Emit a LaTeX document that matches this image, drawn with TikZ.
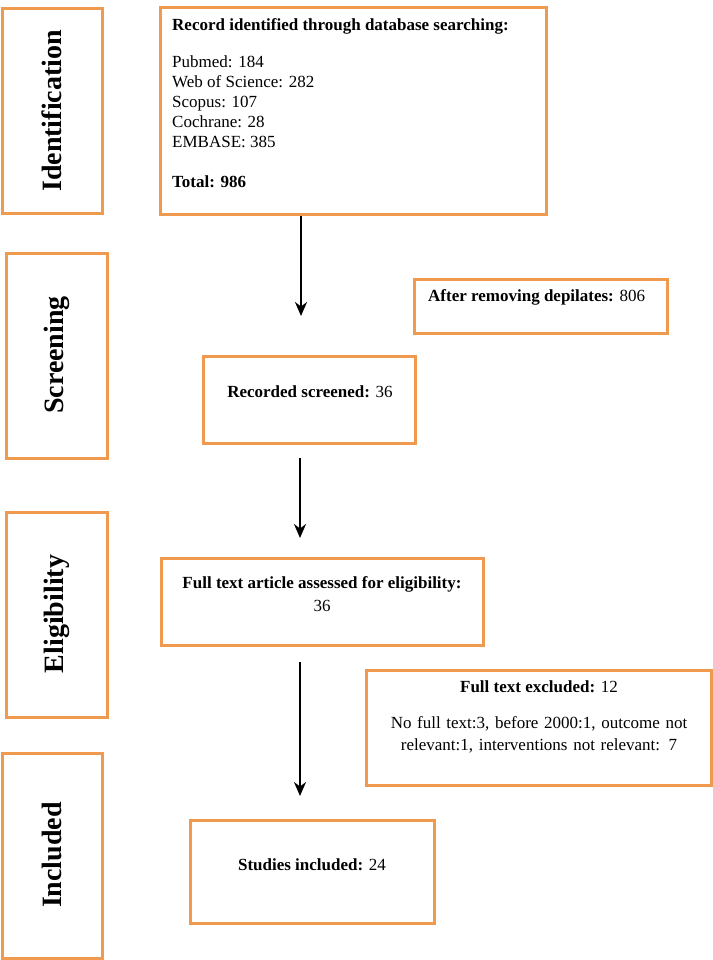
\documentclass[tikz,border=0pt]{standalone}
\usepackage{fontspec}
\setmainfont{Liberation Serif}
\usetikzlibrary{arrows.meta}
\begin{document}
\begin{tikzpicture}[x=1pt,y=-1pt,
  box/.style={draw=boxor,line width=3pt,fill=white},
  lbl/.style={font=\fontsize{28}{32}\selectfont\bfseries,rotate=90},
  arr/.style={line width=2.4pt,-{Stealth[length=14pt,width=12pt]}}]
\definecolor{boxor}{RGB}{240,154,80}
\useasboundingbox (0,0) rectangle (712,960);
\fill[white] (0,0) rectangle (712,960);
\tikzset{every node/.style={font=\fontsize{17}{20}\selectfont}}
% stage boxes
\draw[box] (2,9) rectangle (102,213);
\node[lbl] (lid) at (52,111) {Identification};
\draw[box] (6,253) rectangle (107,458);
\node[lbl] (lsc) at (57,355) {Screening};
\draw[box] (6,512) rectangle (107,717);
\node[lbl] (lel) at (57,614) {Eligibility};
\draw[box] (2,753) rectangle (102,958);
\node[lbl] (lin) at (52,855) {Included};
% main boxes
\draw[box] (160,8) rectangle (546,214);
\node[anchor=north west,align=left,inner sep=0pt] (rec) at (172,18) {\textbf{Record identified through database searching:}\\[17pt]
Pubmed: 184\\Web of Science: 282\\Scopus: 107\\Cochrane: 28\\EMBASE: 385\\[20pt]\textbf{Total: 986}};
\coordinate (a1s) at (301,216);
\coordinate (a1e) at (301,316);
\draw[box] (414,279) rectangle (667,333);
\node[anchor=west,inner sep=0pt] (rem) at (428,297) {\textbf{After removing depilates:} 806};
\draw[box] (203,356) rectangle (415,443);
\node[inner sep=0pt] (scr) at (310,392) {\textbf{Recorded screened:} 36};
\coordinate (a2s) at (300,458);
\coordinate (a2e) at (300,538);
\draw[box] (161,558) rectangle (483,645);
\node[align=center,inner sep=0pt] (ful) at (322,594) {\textbf{Full text article assessed for eligibility:}\\[3pt]36};
\coordinate (a3s) at (300,662);
\coordinate (a3e) at (300,796);
\draw[box] (366,670) rectangle (711,785);
\node[inner sep=0pt] (exc) at (539,687) {\textbf{Full text excluded:} 12};
\node[align=center,inner sep=0pt,text width=310pt] (exd) at (539,735) {No full text:3, before 2000:1, outcome not\\[2pt] relevant:1, interventions not relevant: 7};
\draw[box] (190,820) rectangle (434,923);
\node[inner sep=0pt] (inc) at (312,865) {\textbf{Studies included:} 24};
\draw[arr] (a1s) -- (a1e);
\draw[arr] (a2s) -- (a2e);
\draw[arr] (a3s) -- (a3e);
\end{tikzpicture}
\end{document}
